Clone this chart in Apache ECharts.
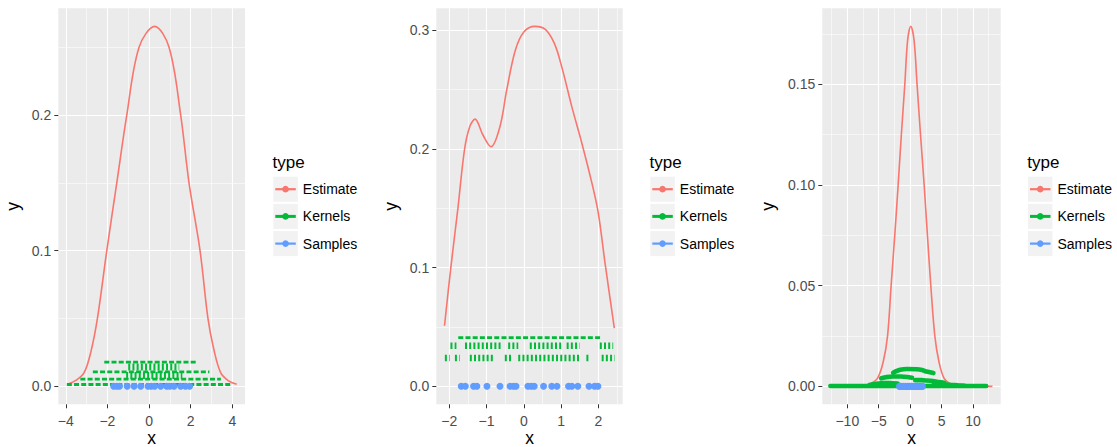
<!DOCTYPE html>
<html>
<head>
<meta charset="utf-8">
<style>
  html, body { margin: 0; padding: 0; background: #fff; }
  #chart { width: 1117px; height: 447px; }
</style>
<script src="https://cdn.jsdelivr.net/npm/echarts@6/dist/echarts.min.js"></script>
</head>
<body>
<div id="chart"></div>
<script>
// legend entries
const types = ['Estimate', 'Kernels', 'Samples'];

// ---- panel 1 ----
const xRange1 = [-4.36, 4.61];
const yRange1 = [-0.0133, 0.2787];
const xTicks1 = [-4, -2, 0, 2, 4];
const xMinor1 = [-3, -1, 1, 3];
const yTicks1 = [0, 0.1, 0.2];
const yMinor1 = [0.05, 0.15, 0.25];
const estimate1 = [[-3.92, 0.0015], [-3.5, 0.0045], [-3.12, 0.010], [-2.8, 0.025], [-2.48, 0.05],
  [-2.03, 0.10], [-1.55, 0.15], [-1.07, 0.20], [-0.48, 0.25], [0.27, 0.2654], [0.96, 0.25],
  [1.52, 0.20], [1.92, 0.15], [2.45, 0.10], [2.83, 0.05], [3.1, 0.028], [3.44, 0.010],
  [3.8, 0.0042], [4.21, 0.0015]];
const samples1 = [-1.7, -1.55, -1.42, -1.05, -0.72, -0.4, -0.05, 0.1, 0.27, 0.56, 0.85, 1.0, 1.2, 1.52, 1.75, 1.95];
// kernel rows: [xFrom, xTo, y]
const kernelDash1 = [[-2.15, 2.3, 0.0178], [-2.7, 2.9, 0.0106], [-3.3, 3.45, 0.0052], [-3.95, 4.0, 0.0013]];
const kernelHatch1 = [[-1.0, 1.45, 0.0142], [-1.1, 1.6, 0.0079]];

// ---- panel 2 ----
const xRange2 = [-2.35, 2.655];
const yRange2 = [-0.0152, 0.3186];
const xTicks2 = [-2, -1, 0, 1, 2];
const xMinor2 = [-1.5, -0.5, 0.5, 1.5, 2.5];
const yTicks2 = [0, 0.1, 0.2, 0.3];
const yMinor2 = [0.05, 0.15, 0.25];
const estimate2 = [[-2.13, 0.051], [-1.96, 0.10], [-1.77, 0.15], [-1.59, 0.20], [-1.45, 0.219],
  [-1.31, 0.2252], [-1.1, 0.212], [-0.88, 0.2019], [-0.64, 0.219], [-0.46, 0.2496], [-0.23, 0.283],
  [0.0, 0.2986], [0.3, 0.3034], [0.57, 0.301], [0.82, 0.289], [1.02, 0.269], [1.29, 0.2355],
  [1.56, 0.2047], [1.83, 0.171], [2.0, 0.146], [2.18, 0.104], [2.43, 0.049]];
const samples2 = [-1.68, -1.57, -1.35, -1.26, -0.99, -0.64, -0.37, -0.28, -0.21, 0.11, 0.2, 0.28,
  0.53, 0.75, 0.89, 1.2, 1.29, 1.45, 1.75, 1.9, 1.99];
const kernelDash2 = [[-1.76, 2.09, 0.041]];
const kernelHatch2 = [[-1.97, -1.81, 0.0342], [-1.58, -0.6, 0.0342], [-0.42, -0.15, 0.0342],
  [0.16, 1.01, 0.0342], [1.15, 1.5, 0.0342], [2.04, 2.4, 0.0342],
  [-2.12, -1.99, 0.0239], [-1.85, -1.72, 0.0239], [-1.45, -0.78, 0.0239], [-0.51, -0.29, 0.0239],
  [-0.15, 1.5, 0.0239], [1.68, 1.77, 0.0239], [2.09, 2.44, 0.0239]];

// ---- panel 3 ----
const xRange3 = [-13.98, 14.41];
const yRange3 = [-0.0089, 0.1878];
const xTicks3 = [-10, -5, 0, 5, 10];
const xMinor3 = [-12.5, -7.5, -2.5, 2.5, 7.5, 12.5];
const yTicks3 = [0, 0.05, 0.10, 0.15];
const yMinor3 = [0.025, 0.075, 0.125, 0.175];
const estimate3 = [[-12.7, 0], [-8.5, 0.0001], [-7.3, 0.0004], [-6.2, 0.0015], [-5.2, 0.004],
  [-4.3, 0.012], [-3.6, 0.025], [-3.03, 0.05], [-2.45, 0.075], [-1.91, 0.10], [-1.4, 0.125],
  [-0.85, 0.15], [-0.4, 0.172], [0.1, 0.1789], [0.62, 0.172], [1.1, 0.15], [1.65, 0.125],
  [2.23, 0.10], [2.75, 0.075], [3.29, 0.05], [3.93, 0.025], [4.6, 0.012], [5.41, 0.004],
  [6.5, 0.0012], [7.6, 0.0003], [9, 0.0001], [13.1, 0]];
const samples3 = samples1;
const kernelBands3 = [
  [[-12.7, 0.0002], [12.1, 0.0002]],
  [[-2.7, 0.0068], [-2.2, 0.0076], [-1.6, 0.0083], [-0.5, 0.0086], [1.0, 0.0085], [1.9, 0.0081],
   [2.4, 0.0075], [3.0, 0.0071], [3.7, 0.0066]],
  [[-4.6, 0.0040], [-3.8, 0.0046], [-2.8, 0.0049], [-1.5, 0.0049], [-0.5, 0.0047], [0.3, 0.0043]],
  [[0.8, 0.0031], [1.8, 0.0031], [2.6, 0.0029], [3.6, 0.0026], [4.5, 0.0022], [5.4, 0.0018]],
  [[-6.5, 0.0007], [-5.4, 0.0013], [-4.3, 0.0017], [-3.2, 0.0017], [-2.0, 0.0014]],
  [[3.8, 0.0014], [5.0, 0.0012], [6.4, 0.0008], [7.6, 0.0005], [8.7, 0.0003]]
];

const FONT = '"Liberation Sans", Arial, Helvetica, sans-serif';
const colors = { Estimate: '#F8766D', Kernels: '#00BA38', Samples: '#619CFF' };

const panels = [
  { box: [58.3, 8.3, 186.7, 396], xRange: xRange1, yRange: yRange1, xTicks: xTicks1, xMinor: xMinor1,
    yTicks: yTicks1, yMinor: yMinor1, yDigits: 1, yNameGap: 37, legendLeft: 273.3 },
  { box: [436.3, 8.3, 186.4, 396], xRange: xRange2, yRange: yRange2, xTicks: xTicks2, xMinor: xMinor2,
    yTicks: yTicks2, yMinor: yMinor2, yDigits: 1, yNameGap: 37, legendLeft: 650.3 },
  { box: [822.3, 8.3, 178.4, 396], xRange: xRange3, yRange: yRange3, xTicks: xTicks3, xMinor: xMinor3,
    yTicks: yTicks3, yMinor: yMinor3, yDigits: 2, yNameGap: 46, legendLeft: 1028 }
];

function fmt(v, d) {
  return v.toFixed(d).replace('-', '\u2212');
}

function mainAxis(p, cfg, dim) {
  const isX = dim === 'x';
  const ticks = isX ? cfg.xTicks : cfg.yTicks;
  const range = isX ? cfg.xRange : cfg.yRange;
  return {
    type: 'value', gridIndex: p, min: range[0], max: range[1],
    position: isX ? 'bottom' : 'left',
    axisLine: { show: false, onZero: false },
    axisTick: { show: true, length: 4, customValues: ticks, lineStyle: { color: '#333333', width: 1 } },
    axisLabel: {
      customValues: ticks, color: '#4D4D4D', fontSize: 14, lineHeight: 14, fontFamily: FONT, margin: isX ? 10 : 7,
      formatter: v => fmt(v, isX ? 0 : cfg.yDigits)
    },
    splitLine: { show: true, lineStyle: { color: '#FFFFFF', width: 1.1 } },
    name: dim, nameLocation: 'middle', nameGap: isX ? 26 : cfg.yNameGap, nameMoveOverlap: false,
    nameTextStyle: { color: '#000000', fontSize: 17.5, fontFamily: FONT, lineHeight: 16 }
  };
}

function minorAxis(p, cfg, dim) {
  const isX = dim === 'x';
  const ticks = isX ? cfg.xMinor : cfg.yMinor;
  const range = isX ? cfg.xRange : cfg.yRange;
  return {
    type: 'value', gridIndex: p, min: range[0], max: range[1],
    position: isX ? 'top' : 'right',
    axisLine: { show: false, onZero: false },
    axisTick: { show: false, customValues: ticks },
    axisLabel: { show: false, customValues: ticks },
    splitLine: { show: true, lineStyle: { color: '#FFFFFF', width: 0.55 } }
  };
}

const estimates = [estimate1, estimate2, estimate3];
const samples = [samples1, samples2, samples3];
const kernelDash = [kernelDash1, kernelDash2, []];
const kernelHatch = [kernelHatch1, kernelHatch2, []];
const kernelBands = [[], [], kernelBands3];
const hatchWidth = [7, 6.5, 0];

const grids = [], xAxes = [], yAxes = [], series = [], graphics = [];

panels.forEach((cfg, p) => {
  grids.push({
    left: cfg.box[0], top: cfg.box[1], width: cfg.box[2], height: cfg.box[3],
    outerBoundsMode: 'none', containLabel: false,
    show: true, backgroundColor: '#EBEBEB', borderWidth: 0
  });
  xAxes.push(mainAxis(p, cfg, 'x'), minorAxis(p, cfg, 'x'));
  yAxes.push(mainAxis(p, cfg, 'y'), minorAxis(p, cfg, 'y'));
  const ax = { xAxisIndex: 2 * p, yAxisIndex: 2 * p };

  series.push(Object.assign({
    type: 'line', name: 'Estimate', data: estimates[p], smooth: 0.35, symbol: 'none',
    lineStyle: { color: colors.Estimate, width: 1.6 }, z: 2, silent: true
  }, ax));

  kernelDash[p].forEach(r => series.push(Object.assign({
    type: 'line', name: 'Kernels', data: [[r[0], r[2]], [r[1], r[2]]], symbol: 'none',
    lineStyle: { color: colors.Kernels, width: 2.8, type: [5, 2.2] }, z: 3, silent: true
  }, ax)));

  kernelHatch[p].forEach(r => series.push(Object.assign({
    type: 'line', name: 'Kernels', data: [[r[0], r[2]], [r[1], r[2]]], symbol: 'none',
    lineStyle: { color: colors.Kernels, width: hatchWidth[p], type: [2, 2.2] }, z: 3, silent: true
  }, ax)));

  kernelBands[p].forEach(b => series.push(Object.assign({
    type: 'line', name: 'Kernels', data: b, smooth: 0.2, symbol: 'none',
    lineStyle: { color: colors.Kernels, width: 4.6, cap: 'round' }, z: 3, silent: true
  }, ax)));

  series.push(Object.assign({
    type: 'scatter', name: 'Samples', data: samples[p].map(x => [x, 0]), symbolSize: 7,
    itemStyle: { color: colors.Samples, opacity: 1 }, z: 4, silent: true
  }, ax));

  // legend drawn like ggplot guide
  const L = cfg.legendLeft;
  graphics.push({
    type: 'text', x: L - 0.8, y: 162.5,
    style: { text: 'type', fill: '#000000', fontSize: 17, fontFamily: FONT, verticalAlign: 'middle', align: 'left' }
  });
  types.forEach((t, i) => {
    const top = 176.7 + i * 27.2;
    const cy = top + 12.5;
    graphics.push(
      { type: 'rect', shape: { x: L, y: top, width: 24.5, height: 25 }, style: { fill: '#F2F2F2' } },
      { type: 'line', shape: { x1: L + 2, y1: cy, x2: L + 22.5, y2: cy },
        style: { stroke: colors[t], lineWidth: i === 1 ? 3 : 2.2 } },
      { type: 'circle', shape: { cx: L + 12.25, cy: cy, r: 3.3 }, style: { fill: colors[t] } },
      { type: 'text', x: L + 29.5, y: cy,
        style: { text: t, fill: '#000000', fontSize: 14, fontFamily: FONT, verticalAlign: 'middle', align: 'left' } }
    );
  });
});

const chart = echarts.init(document.getElementById('chart'), null, { renderer: 'svg' });
chart.setOption({
  animation: false,
  backgroundColor: '#FFFFFF',
  grid: grids,
  xAxis: xAxes,
  yAxis: yAxes,
  series: series,
  graphic: graphics
});
</script>
</body>
</html>
